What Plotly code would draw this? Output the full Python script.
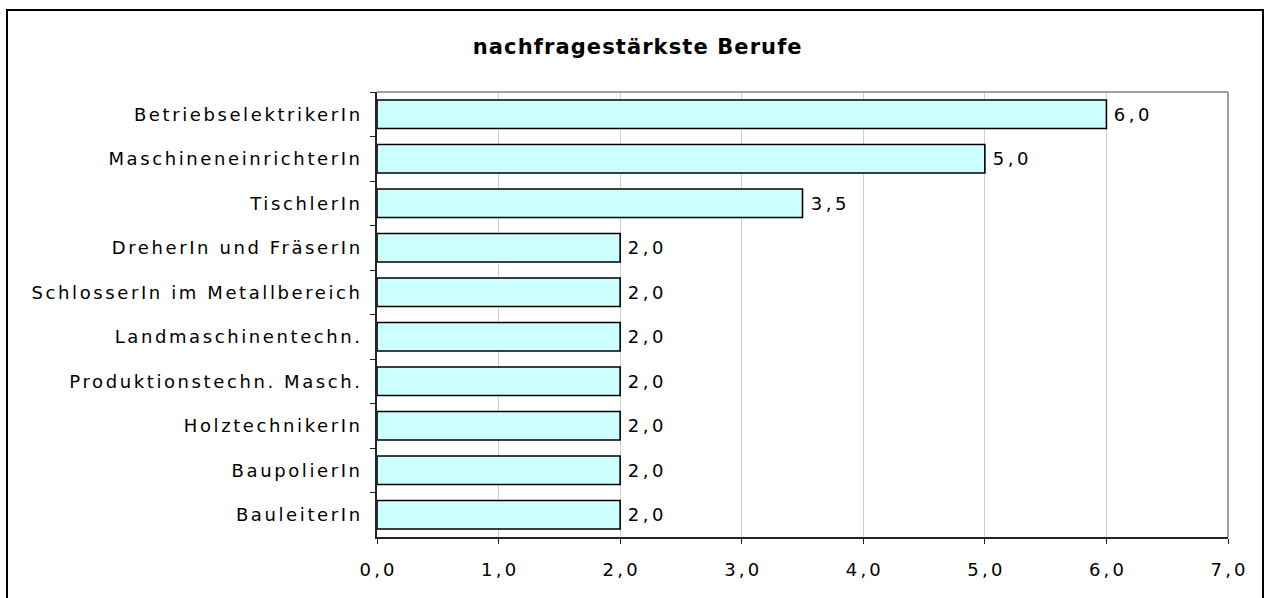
import plotly.graph_objects as go

categories = ["BetriebselektrikerIn", "MaschineneinrichterIn", "TischlerIn",
              "DreherIn und FräserIn", "SchlosserIn im Metallbereich",
              "Landmaschinentechn.", "Produktionstechn. Masch.",
              "HolztechnikerIn", "BaupolierIn", "BauleiterIn"]
values = [6.0, 5.0, 3.5, 2.0, 2.0, 2.0, 2.0, 2.0, 2.0, 2.0]
x_ticks = [0, 1, 2, 3, 4, 5, 6, 7]
title_text = "nachfragestärkste Berufe"

W, H = 1268, 598
L, R, T, B = 377, 1228, 92, 537
FONT = "DejaVu Sans"

fig = go.Figure(go.Bar(
    x=values, y=categories, orientation="h",
    marker=dict(color="#CCFFFF", line=dict(color="black", width=1.6)),
    width=0.64,
    hoverinfo="x+y",
))

for v, c in zip(values, categories):
    fig.add_annotation(x=v, y=c, xref="x", yref="y", text=f"{v:.1f}".replace(".", ","),
                       showarrow=False, xanchor="left", xshift=11,
                       font=dict(family=FONT, size=18, color="black"))


def px(x):
    return (x - L) / (R - L)


def py(y):
    return (B - y) / (B - T)


fig.add_annotation(text="<b>" + title_text + "</b>", x=px(638), y=py(47),
                   xref="paper", yref="paper", showarrow=False,
                   xanchor="center", yanchor="middle",
                   font=dict(family=FONT, size=21, color="black"))

fig.update_layout(
    width=W, height=H,
    margin=dict(l=L, r=W - R, t=T, b=H - B, autoexpand=False),
    paper_bgcolor="white", plot_bgcolor="white",
    separators=",.",
    showlegend=False,
    font=dict(family=FONT, size=18, color="black"),
    xaxis=dict(range=[0, 7], tickvals=x_ticks, tickformat=".1f",
               showgrid=True, gridcolor="#D0D0D0", gridwidth=1,
               showline=True, linecolor="#222", linewidth=1.5,
               ticks="outside", ticklen=5, tickcolor="#222",
               ticklabelstandoff=11,
               zeroline=False, tickfont=dict(size=18, family=FONT)),
    yaxis=dict(autorange="reversed", showgrid=False,
               showline=True, linecolor="#222", linewidth=1.5,
               ticks="outside", ticklen=5, tickcolor="#222",
               tickson="boundaries", ticklabelstandoff=9,
               tickfont=dict(size=18, family=FONT)),
    bargap=0.36,
    shapes=[
        dict(type="rect", xref="paper", yref="paper",
             x0=px(7), x1=px(1263), y0=py(602), y1=py(10),
             line=dict(color="black", width=2), layer="below"),
        dict(type="line", xref="paper", yref="paper",
             x0=0, x1=1, y0=1, y1=1, line=dict(color="#808080", width=1.5)),
        dict(type="line", xref="paper", yref="paper",
             x0=1, x1=1, y0=0, y1=1, line=dict(color="#808080", width=1.5)),
    ],
)

post_js = """
document.body.style.margin = '0';
var gd = document.getElementById('{plot_id}');
gd.querySelectorAll('.ytick text').forEach(function (t) {
  t.style.letterSpacing = '2.6px';
});
gd.querySelectorAll('.xtick text').forEach(function (t) {
  t.style.letterSpacing = '3.2px';
  t.setAttribute('dx', '1.6');
});
gd.querySelectorAll('.annotation-text').forEach(function (t) {
  if (t.textContent.indexOf(',') >= 0) { t.style.letterSpacing = '3.5px'; }
  else { t.style.letterSpacing = '1.1px'; }
});
"""

fig.write_html("out.html", post_script=post_js, config={"displayModeBar": False})
